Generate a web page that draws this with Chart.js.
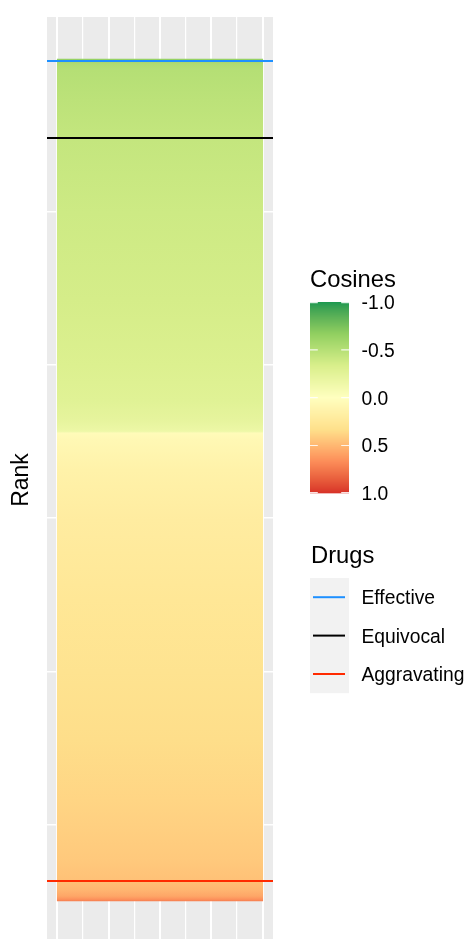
<!DOCTYPE html>
<html>
<head>
<meta charset="utf-8">
<script src="https://cdn.jsdelivr.net/npm/chart.js@4/dist/chart.umd.min.js"></script>
<style>
  html, body { margin: 0; padding: 0; background: #ffffff; overflow: hidden; width: 466px; height: 939px; }
  canvas { display: block; }
</style>
</head>
<body>
<canvas id="chart" width="466" height="950"></canvas>
<script>
// Cosine score sampled along the drug ranking (rank 1 = most negative cosine)
const sampleRanks   = [1, 13, 33, 72, 268, 530, 1000, 1574, 2000, 2228, 2358, 2424, 2437,
                       2444, 2490, 2685, 3012, 3535, 4005, 4449, 4841, 5004, 5233, 5364, 5429, 5469, 5488, 5500];
const sampleCosines = [-0.66, -0.58, -0.53, -0.50, -0.47, -0.43, -0.39, -0.35, -0.31, -0.27, -0.22, -0.17, -0.13,
                       0.04, 0.07, 0.14, 0.20, 0.26, 0.30, 0.34, 0.38, 0.40, 0.43, 0.46, 0.51, 0.57, 0.64, 0.72];
const nRanks = 5500;

// Reference drugs marked on the ranking
const drugNames  = ['Effective', 'Equivocal', 'Aggravating'];
const drugRanks  = [13, 516, 5370];
const drugColors = ['#1E90FF', '#000000', '#FF2A00'];

// Axis breaks and colour scale
const rankBreaks    = [1000, 2000, 3000, 4000, 5000];
const xBreaks       = [0, 0.125, 0.25, 0.375, 0.5, 0.625, 0.75, 0.875, 1];
const tileSpan      = [0, 1];
const cosineBreaks  = [-1, -0.5, 0, 0.5, 1];
const cosineLabels  = ['-1.0', '-0.5', '0.0', '0.5', '1.0'];
const paletteColors = ['#1A9850', '#91CF60', '#D9EF8B', '#FFFFBF', '#FEE08B', '#FC8D59', '#D73027']; // -1 .. 1

const FONT = '"Liberation Sans", Arial, Helvetica, sans-serif';

// ---- colour ramp interpolated in CIELAB ----
function hexToRgb(h) { const n = parseInt(h.slice(1), 16); return [(n >> 16) & 255, (n >> 8) & 255, n & 255]; }
function toLin(c) { c /= 255; return c <= 0.04045 ? c / 12.92 : Math.pow((c + 0.055) / 1.055, 2.4); }
function fromLin(c) { c = c <= 0.0031308 ? 12.92 * c : 1.055 * Math.pow(c, 1 / 2.4) - 0.055; return Math.round(Math.max(0, Math.min(1, c)) * 255); }
const WP = [0.95047, 1, 1.08883];
function fl(t) { return t > 0.008856 ? Math.cbrt(t) : 7.787 * t + 16 / 116; }
function flInv(t) { return t > 0.206893 ? t * t * t : (t - 16 / 116) / 7.787; }
function rgbToLab(rgb) {
  const [r, g, b] = rgb.map(toLin);
  const X = (0.4124 * r + 0.3576 * g + 0.1805 * b) / WP[0];
  const Y = (0.2126 * r + 0.7152 * g + 0.0722 * b) / WP[1];
  const Z = (0.0193 * r + 0.1192 * g + 0.9505 * b) / WP[2];
  const fx = fl(X), fy = fl(Y), fz = fl(Z);
  return [116 * fy - 16, 500 * (fx - fy), 200 * (fy - fz)];
}
function labToRgb(lab) {
  const fy = (lab[0] + 16) / 116, fx = fy + lab[1] / 500, fz = fy - lab[2] / 200;
  const X = flInv(fx) * WP[0], Y = flInv(fy) * WP[1], Z = flInv(fz) * WP[2];
  return [fromLin(3.2406 * X - 1.5372 * Y - 0.4986 * Z),
          fromLin(-0.9689 * X + 1.8758 * Y + 0.0415 * Z),
          fromLin(0.0557 * X - 0.2040 * Y + 1.0570 * Z)];
}
const paletteLab = paletteColors.map(h => rgbToLab(hexToRgb(h)));
function cosineColor(v) {
  const t = (Math.max(-1, Math.min(1, v)) + 1) / 2 * (paletteLab.length - 1);
  const i = Math.min(Math.floor(t), paletteLab.length - 2);
  const u = t - i, a = paletteLab[i], b = paletteLab[i + 1];
  const rgb = labToRgb([a[0] + (b[0] - a[0]) * u, a[1] + (b[1] - a[1]) * u, a[2] + (b[2] - a[2]) * u]);
  return 'rgb(' + rgb.join(',') + ')';
}

// ---- tiles between consecutive samples ----
const lastIdx = sampleRanks.length - 1;
const tileCentre = (tileSpan[0] + tileSpan[1]) / 2;
const tiles = sampleRanks.slice(0, -1).map((r, i) => ({
  x: tileCentre,
  y: [i === 0 ? r - 0.5 : r, i === lastIdx - 1 ? sampleRanks[i + 1] + 0.5 : sampleRanks[i + 1]]
}));

function tileFill(ctx) {
  if (ctx.type !== 'data') return '#EBEBEB';
  const i = ctx.dataIndex;
  const y = ctx.chart.scales.y;
  const c0 = cosineColor(sampleCosines[i]), c1 = cosineColor(sampleCosines[i + 1]);
  if (!y || !ctx.raw) return c0;
  const p0 = y.getPixelForValue(ctx.raw.y[0]), p1 = y.getPixelForValue(ctx.raw.y[1]);
  if (!isFinite(p0) || !isFinite(p1) || p0 === p1) return c0;
  const g = ctx.chart.ctx.createLinearGradient(0, p0, 0, p1);
  g.addColorStop(0, c0);
  g.addColorStop(1, c1);
  return g;
}

const xMin = -0.05, xMax = 1.05;
const drugLines = drugNames.map((name, k) => ({
  type: 'line',
  label: name,
  data: [{ x: xMin, y: drugRanks[k] }, { x: xMax, y: drugRanks[k] }],
  xAxisID: 'x',
  yAxisID: 'y',
  borderColor: drugColors[k],
  borderWidth: 2,
  pointRadius: 0,
  order: 0
}));

// grey panel behind the grid
const panelPlugin = {
  id: 'panel',
  beforeDraw(chart) {
    const { ctx, chartArea: a } = chart;
    ctx.save();
    ctx.fillStyle = '#EBEBEB';
    ctx.fillRect(a.left, a.top, a.right - a.left, a.bottom - a.top);
    ctx.restore();
  }
};

// colour bar + line key drawn to the right of the panel
const legendPlugin = {
  id: 'sideLegend',
  afterDraw(chart) {
    const ctx = chart.ctx;
    ctx.save();
    const left = 310, barW = 39, barTop = 302, barBot = 493.3;
    const textX = 361.5, size = 19.3, titleSize = 23.8;

    ctx.fillStyle = '#000';
    ctx.font = titleSize + 'px ' + FONT;
    ctx.textAlign = 'left';
    ctx.textBaseline = 'alphabetic';
    ctx.fillText('Cosines', 310, 287);

    const span = barBot - barTop;
    for (let py = 0; py < span; py += 1) {
      const v = -1 + 2 * (py + 0.5) / span;
      ctx.fillStyle = cosineColor(v);
      ctx.fillRect(left, barTop + py, barW, Math.min(1.05, span - py));
    }
    ctx.strokeStyle = 'rgba(255,255,255,0.85)';
    ctx.lineWidth = 1.2;
    ctx.font = size + 'px ' + FONT;
    cosineBreaks.forEach((b, k) => {
      const py = barTop + (b + 1) / 2 * span;
      const ty = Math.min(Math.max(py, barTop + 0.6), barBot - 0.6);
      ctx.beginPath();
      ctx.moveTo(left, ty); ctx.lineTo(left + 7.8, ty);
      ctx.moveTo(left + barW - 7.8, ty); ctx.lineTo(left + barW, ty);
      ctx.stroke();
      ctx.fillStyle = '#000';
      ctx.fillText(cosineLabels[k], textX, py + 0.36 * size);
    });

    ctx.fillStyle = '#000';
    ctx.font = titleSize + 'px ' + FONT;
    ctx.fillText('Drugs', 311, 563);

    const keyTop = 578, keyH = 38.4;
    ctx.fillStyle = '#F2F2F2';
    ctx.fillRect(left, keyTop, barW, keyH * drugNames.length);
    ctx.font = size + 'px ' + FONT;
    drugNames.forEach((name, k) => {
      const cy = keyTop + keyH * (k + 0.5);
      ctx.strokeStyle = drugColors[k];
      ctx.lineWidth = 2;
      ctx.beginPath();
      ctx.moveTo(left + 3, cy); ctx.lineTo(left + barW - 4, cy);
      ctx.stroke();
      ctx.fillStyle = '#000';
      ctx.fillText(name, textX, cy + 0.36 * size);
    });
    ctx.restore();
  }
};

new Chart(document.getElementById('chart'), {
  type: 'line',
  data: {
    datasets: [
      {
        type: 'bar',
        label: 'Cosines',
        data: tiles,
        xAxisID: 'xb',
        yAxisID: 'y',
        backgroundColor: tileFill,
        borderWidth: 0,
        grouped: false,
        barPercentage: 1,
        categoryPercentage: 1,
        order: 1
      },
      ...drugLines
    ]
  },
  options: {
    responsive: false,
    devicePixelRatio: 1,
    animation: false,
    events: [],
    layout: { padding: { left: 3.4, right: 193, top: 17, bottom: 7 } },
    plugins: { legend: { display: false }, tooltip: { enabled: false } },
    scales: {
      // tile scale: its two ticks mark the tile edges, which sets the bar width
      xb: {
        type: 'linear',
        axis: 'x',
        position: 'bottom',
        min: xMin,
        max: xMax,
        offset: false,
        display: false,
        afterBuildTicks: s => { s.ticks = tileSpan.map(v => ({ value: v })); },
        grid: { display: false, offset: false }
      },
      x: {
        type: 'linear',
        position: 'bottom',
        min: xMin,
        max: xMax,
        offset: false,
        afterBuildTicks: s => { s.ticks = xBreaks.map(v => ({ value: v })); },
        ticks: { display: false },
        border: { display: false },
        grid: {
          offset: false,
          color: '#FFFFFF',
          drawTicks: false,
          lineWidth: c => (c.tick && Number.isInteger(c.tick.value * 4)) ? 2 : 1.2
        }
      },
      y: {
        type: 'linear',
        reverse: true,
        beginAtZero: false,
        min: 0.5 - 0.05 * nRanks,
        max: nRanks + 0.5 + 0.05 * nRanks,
        afterBuildTicks: s => { s.ticks = rankBreaks.map(v => ({ value: v })); },
        ticks: { display: false },
        border: { display: false },
        grid: { color: '#FFFFFF', drawTicks: false, lineWidth: 1.4 },
        title: {
          display: true,
          text: 'Rank',
          color: '#000',
          font: { family: FONT, size: 23 },
          padding: { top: 4, bottom: 12 }
        }
      }
    }
  },
  plugins: [panelPlugin, legendPlugin]
});
</script>
</body>
</html>
